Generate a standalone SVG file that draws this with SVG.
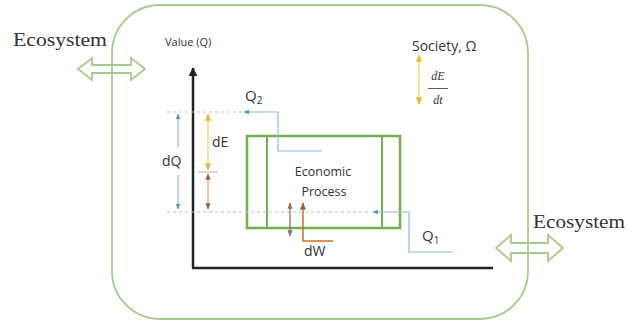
<svg xmlns="http://www.w3.org/2000/svg" width="639" height="327" viewBox="0 0 639 327">
<style>
.serif{font-family:"Liberation Serif","Times New Roman",serif;fill:#333}
.sans{font-family:"Open Sans","Liberation Sans",Arial,sans-serif;fill:#333}
.eco{fill:none;stroke:#a8c98c;stroke-width:1.8}
.bl{stroke:#8fb8e0;stroke-width:1.2;fill:none}
.bld{stroke:#a9c8e8;stroke-width:1.2;fill:none;stroke-dasharray:3 3}
.yl{stroke:#f5d77a;stroke-width:1.5;fill:none}
.br{stroke:#d8a88a;stroke-width:1.3;fill:none}
</style>
<defs>
<marker id="ab" viewBox="0 0 10 10" refX="9" refY="5" markerWidth="5" markerHeight="5" orient="auto-start-reverse"><path d="M0,1 L10,5 L0,9 Z" fill="#5b8fc8"/></marker>
<marker id="ay" viewBox="0 0 10 10" refX="9" refY="5" markerWidth="5" markerHeight="5" orient="auto-start-reverse"><path d="M0,1 L10,5 L0,9 Z" fill="#e8b830"/></marker>
<marker id="ar" viewBox="0 0 10 10" refX="9" refY="5" markerWidth="5" markerHeight="5" orient="auto-start-reverse"><path d="M0,1 L10,5 L0,9 Z" fill="#a0603a"/></marker>
<marker id="ag" viewBox="0 0 10 10" refX="9" refY="5" markerWidth="5" markerHeight="5" orient="auto-start-reverse"><path d="M0,1 L10,5 L0,9 Z" fill="#8a7060"/></marker>
<marker id="ak" viewBox="0 0 10 10" refX="9" refY="5" markerWidth="3.5" markerHeight="3.5" orient="auto"><path d="M0,0 L10,5 L0,10 Z" fill="#222"/></marker>
</defs>
<rect width="639" height="327" fill="#fff"/>

<g id="society">
<rect x="112" y="5" width="416" height="314" rx="48" ry="48" class="eco"/>
<text x="412" y="51" class="sans" font-size="14">Society, Ω</text>
</g>

<g id="ecosystem-left">
<text x="13" y="46" class="serif" font-size="19" textLength="94" lengthAdjust="spacingAndGlyphs">Ecosystem</text>
<path d="M78,69 L92,58 L92,65 L131,65 L131,58 L145,69 L131,80 L131,73 L92,73 L92,80 Z" class="eco"/>
</g>

<g id="ecosystem-right">
<text x="533" y="228" class="serif" font-size="18" textLength="92" lengthAdjust="spacingAndGlyphs">Ecosystem</text>
<path d="M496,248 L511,235 L511,243 L548,243 L548,235 L563,248 L548,261 L548,253 L511,253 L511,261 Z" class="eco"/>
</g>

<g id="axes">
<line x1="193" y1="268" x2="193" y2="68" stroke="#222" stroke-width="2.5" marker-end="url(#ak)"/>
<line x1="192" y1="268" x2="493" y2="268" stroke="#222" stroke-width="2.5"/>
<text x="165" y="46" class="sans" font-size="11">Value (Q)</text>
</g>

<g id="economic-process">
<rect x="247" y="136" width="153" height="92" fill="none" stroke="#72b04e" stroke-width="2.5"/>
<line x1="267" y1="136" x2="267" y2="228" stroke="#72b04e" stroke-width="2"/>
<line x1="382" y1="136" x2="382" y2="228" stroke="#72b04e" stroke-width="2"/>
<text x="323" y="176" class="sans" font-size="12.5" text-anchor="middle">Economic</text>
<text x="324" y="196" class="sans" font-size="12.5" text-anchor="middle">Process</text>
</g>

<g id="connectors">
<!-- Q2 path -->
<line x1="167" y1="112" x2="243" y2="112" class="bld"/>
<polyline points="322,151 278,151 278,112 244,112" class="bl" marker-end="url(#ab)"/>
<!-- Q1 path -->
<line x1="167" y1="212" x2="372" y2="212" class="bld"/>
<polyline points="453,252 409,252 409,212 373,212" class="bl" marker-end="url(#ab)"/>
<!-- dQ -->
<line x1="178" y1="147" x2="178" y2="114" class="bl" marker-end="url(#ab)"/>
<line x1="178" y1="175" x2="178" y2="209" class="bl" marker-end="url(#ab)"/>
<!-- dE -->
<line x1="208" y1="114" x2="208" y2="170" class="yl" marker-start="url(#ay)" marker-end="url(#ay)"/>
<line x1="198" y1="172" x2="218" y2="172" stroke="#b0b0b0" stroke-width="1"/>
<line x1="208" y1="174" x2="208" y2="209" class="br" marker-start="url(#ar)" marker-end="url(#ar)"/>
<!-- dW -->
<line x1="290" y1="203" x2="290" y2="236" stroke="#8a7060" stroke-width="1.3" marker-start="url(#ag)" marker-end="url(#ag)"/>
<polyline points="333,241 303,241 303,203" fill="none" stroke="#d07020" stroke-width="1.5" marker-end="url(#ar)"/>
<!-- society dE/dt -->
<line x1="419" y1="55" x2="419" y2="104" class="yl" marker-start="url(#ay)" marker-end="url(#ay)"/>
</g>

<g id="labels">
<text x="245" y="101" class="sans" font-size="15">Q<tspan font-size="10" dy="3">2</tspan></text>
<text x="422" y="241" class="sans" font-size="15">Q<tspan font-size="10" dy="3">1</tspan></text>
<text x="162" y="166" class="sans" font-size="14">dQ</text>
<text x="212" y="147" class="sans" font-size="14">dE</text>
<text x="304" y="256" class="sans" font-size="14">dW</text>
<text x="438" y="80" class="serif" font-size="12" font-style="italic" text-anchor="middle">dE</text>
<line x1="428" y1="88.5" x2="448" y2="88.5" stroke="#333" stroke-width="0.8"/>
<text x="438" y="104" class="serif" font-size="12" font-style="italic" text-anchor="middle">dt</text>
</g>
</svg>
